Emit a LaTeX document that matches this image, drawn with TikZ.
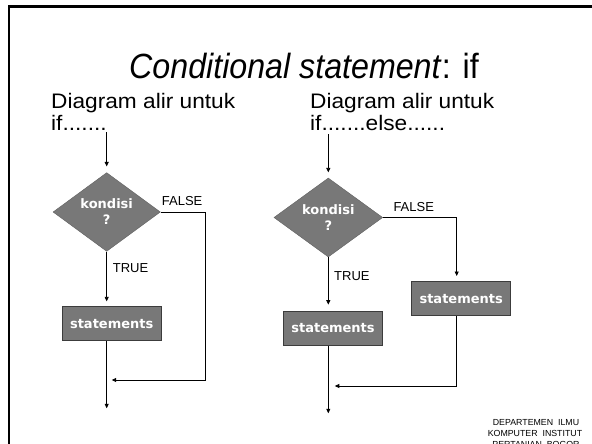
\documentclass[tikz,border=0pt]{standalone}
\usepackage{fontspec}
\usepackage{graphicx}
\setmainfont{Liberation Sans}
\newfontfamily\boxfont{DejaVu Sans}
\usetikzlibrary{shapes.geometric,arrows.meta}
\definecolor{boxgray}{RGB}{120,120,120}
\definecolor{edgegray}{RGB}{60,60,60}
\begin{document}
\begin{tikzpicture}[x=1pt,y=-1pt,
  flow/.style={line width=0.8pt},
  arr/.style={flow,-{Triangle[length=4.5pt,width=4pt]}},
  cond/.style={diamond, fill=boxgray, draw=boxgray!80!black, line width=0.4pt,
    inner sep=0pt, text=white, align=center,
    font=\boxfont\bfseries\fontsize{13}{16}\selectfont},
  stmt/.style={rectangle, fill=boxgray, draw=edgegray, line width=0.7pt,
    inner sep=0pt, text=white, minimum width=99pt, minimum height=34pt,
    font=\boxfont\bfseries\fontsize{13}{16}\selectfont},
  lbl/.style={font=\fontsize{13}{15}\selectfont, inner sep=0pt, anchor=base west},
  sub/.style={font=\fontsize{21}{24}\selectfont, inner sep=0pt, anchor=base west},
  foot/.style={font=\fontsize{8.8}{10}\selectfont, inner sep=0pt, anchor=base},
]
\useasboundingbox (0,0) rectangle (592,444);
\fill[white] (0,0) rectangle (592,444);
% slide frame
\draw[line width=2.6pt] (8.8,460) -- (8.8,6.5) -- (610,6.5);

% title
\node[font=\fontsize{35}{38}\selectfont, inner sep=0pt, anchor=base] (title) at (304,78)
  {\scalebox{0.92}[1]{\textit{Conditional statement}: if}};

% subtitles
\node[sub] (sub1a) at (51,108) {\scalebox{1.08}[1]{Diagram alir untuk}};
\node[sub] (sub1b) at (51,130) {\scalebox{1.08}[1]{if.......}};
\node[sub] (sub2a) at (310,108) {\scalebox{1.08}[1]{Diagram alir untuk}};
\node[sub] (sub2b) at (310,130) {\scalebox{1.08}[1]{if.......else......}};

% ---------- chart 1: if ----------
\coordinate (t1) at (106.7,132);
\node[cond, minimum width=107.3pt, minimum height=78.7pt] (d1) at (106.7,212) {kondisi\\?};
\node[stmt] (s1) at (111.7,323.7) {statements};
\coordinate (e1) at (106.7,408.3);
\coordinate (c1) at (205.7,380);
\coordinate (m1) at (106.7,380);
\node[lbl] (false1) at (161.7,205.7) {FALSE};
\node[lbl] (true1) at (112.7,272.7) {TRUE};

\draw[arr, shorten >=6pt] (t1) -- (d1.north);
\draw[arr, shorten >=5pt] (d1.south) -- (d1.south |- s1.north);
\draw[arr] (d1.south |- s1.south) -- (e1);
\draw[arr, shorten >=5pt] (d1.east) -| (c1) -- (m1);

% ---------- chart 2: if ... else ----------
\coordinate (t2) at (328.3,134);
\node[cond, minimum width=108.7pt, minimum height=79pt] (d2) at (328.3,217.5) {kondisi\\?};
\node[stmt] (s2) at (333,328.5) {statements};
\node[stmt] (s3) at (461.2,298.8) {statements};
\coordinate (e2) at (328.3,413.3);
\coordinate (f2) at (456.7,276);
\coordinate (c2) at (456.7,386);
\coordinate (m2) at (328.3,386);
\node[lbl] (false2) at (393.3,211.7) {FALSE};
\node[lbl] (true2) at (334,280) {TRUE};

\draw[arr, shorten >=5.4pt] (t2) -- (d2.north);
\draw[arr, shorten >=6.5pt] (d2.south) -- (d2.south |- s2.north);
\draw[arr] (d2.south |- s2.south) -- (e2);
\draw[arr] (d2.east) -| (f2);
\draw[arr, shorten >=6.5pt] (f2 |- s3.south) -- (c2) -- (m2);

% footer
\node[foot] (foot1) at (536,425) {DEPARTEMEN\ \ ILMU};
\node[foot] (foot2) at (535,436) {KOMPUTER\ \ INSTITUT};
\node[foot] (foot3) at (536,447) {PERTANIAN\ \ BOGOR};
\end{tikzpicture}
\end{document}
